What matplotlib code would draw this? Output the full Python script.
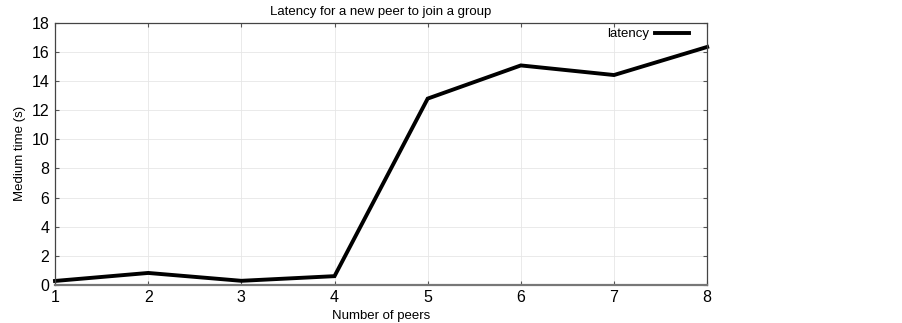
#! /usr/bin/env python3

import matplotlib

matplotlib.use("Agg")
from matplotlib import pyplot as plt

plt.rcParams["font.family"] = ["Liberation Sans", "DejaVu Sans"]

# data
peers = [1, 2, 3, 4, 5, 6, 7, 8]
latency = [0.27, 0.82, 0.28, 0.6, 12.8, 15.08, 14.42, 16.35]

fig = plt.figure(figsize=(9.02, 3.23), dpi=100)
ax = fig.add_axes([0.061, 0.118, 0.723, 0.811])

ax.plot(peers, latency, c="k", lw=2.8, label="latency", clip_on=False,
        solid_joinstyle="miter")

ax.set_xlim(1, 8)
ax.set_ylim(0, 18)
ax.set_xticks(peers)
ax.set_yticks(range(0, 19, 2))

ax.grid(True, color="#e6e6e6", lw=0.6)
ax.tick_params(direction="in", length=3, color="#555555", labelsize=11.5,
               pad=4, top=True, right=True, labeltop=False, labelright=False)
for s in ax.spines.values():
    s.set_color("#444444")
    s.set_linewidth(0.9)
ax.spines["bottom"].set_color("#777777")
ax.spines["bottom"].set_linewidth(1.6)

ax.set_title("Latency for a new peer to join a group", fontsize=9.5, pad=6)
ax.set_xlabel("Number of peers", fontsize=9.5, labelpad=3)
ax.set_ylabel("Medium time (s)", fontsize=9.5, labelpad=4)

kw = {"loc": "upper right", "frameon": False, "markerfirst": False,
      "fontsize": 9.5, "handlelength": 2.6, "handletextpad": 0.4,
      "borderaxespad": 0.0, "bbox_to_anchor": (0.98, 1.0)}
ax.legend(**kw)

fig.savefig("out.png", dpi=100)
